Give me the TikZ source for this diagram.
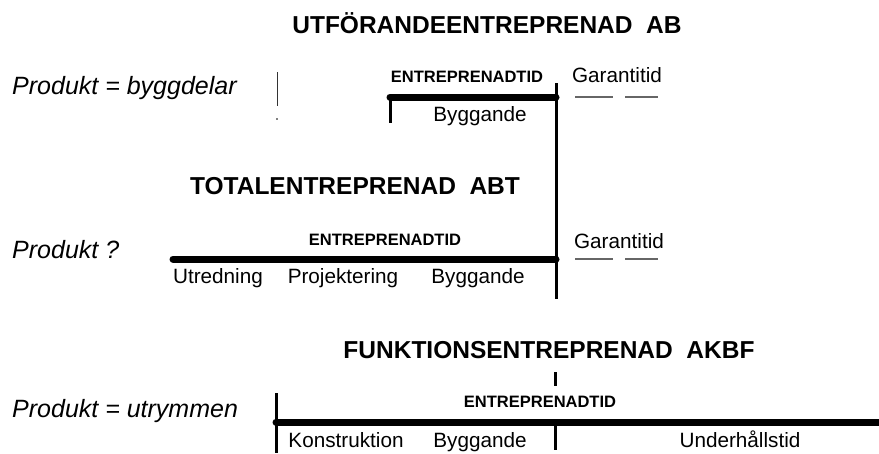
\documentclass[tikz,border=0pt]{standalone}
\usepackage{fontspec}
\setmainfont{Liberation Sans}
\begin{document}
\begin{tikzpicture}[x=1pt,y=-1pt,
  title/.style={font=\fontsize{24.5}{26}\selectfont\bfseries, inner sep=0pt},
  prod/.style={font=\fontsize{25}{27}\selectfont\itshape, inner sep=0pt, anchor=west},
  etid/.style={font=\fontsize{16.5}{18}\selectfont\bfseries, inner sep=0pt},
  lab/.style={font=\fontsize{20.7}{22}\selectfont, inner sep=0pt, anchor=base},
  thick line/.style={line width=7pt, line cap=round},
  vline/.style={line width=3pt},
  thin line/.style={line width=1pt, black!80},
  dashline/.style={line width=1.2pt, black!60}]
\useasboundingbox (0,0) rectangle (879,453);

% ---------- UTFÖRANDEENTREPRENAD AB ----------
\node[title] (t1) at (487,23) {UTFÖRANDEENTREPRENAD\ \ AB};
\node[prod] (p1) at (12,88) {Produkt = byggdelar};
\coordinate (a1) at (277,72); \coordinate (a2) at (277,106);
\draw[thin line] (a1) -- (a2);
\fill (277,119) circle (0.8);
\coordinate (b1s) at (390,97); \coordinate (b1e) at (556,97);
\draw[thick line] (b1s) -- (b1e);
\coordinate (b1d) at (390,123);
\draw[vline] (b1s) -- (b1d);
\node[etid] (e1) at (467,77) {ENTREPRENADTID};
\node[lab] (by1) at (480,121) {Byggande};
\coordinate (v1) at (556,83); \coordinate (v2) at (556,299);
\draw[vline] (v1) -- (v2);
\node[lab] (g1) at (617,82) {Garantitid};
\coordinate (d1a) at (575,97); \coordinate (d1b) at (613,97);
\coordinate (d1c) at (625,97); \coordinate (d1d) at (658,97);
\draw[dashline] (d1a) -- (d1b) (d1c) -- (d1d);

% ---------- TOTALENTREPRENAD ABT ----------
\node[title] (t2) at (355,186) {TOTALENTREPRENAD\ \ ABT};
\node[prod] (p2) at (12,250) {Produkt ?};
\coordinate (b2s) at (173,259); \coordinate (b2e) at (556,259);
\draw[thick line] (b2s) -- (b2e);
\node[etid] (e2) at (385,240) {ENTREPRENADTID};
\node[lab] (u2) at (218,283) {Utredning};
\node[lab] (pr2) at (343,283) {Projektering};
\node[lab] (by2) at (478,283) {Byggande};
\node[lab] (g2) at (619,248) {Garantitid};
\coordinate (d2a) at (575,259); \coordinate (d2b) at (613,259);
\coordinate (d2c) at (625,259); \coordinate (d2d) at (658,259);
\draw[dashline] (d2a) -- (d2b) (d2c) -- (d2d);

% ---------- FUNKTIONSENTREPRENAD AKBF ----------
\node[title] (t3) at (549,350) {FUNKTIONSENTREPRENAD\ \ AKBF};
\coordinate (k1) at (555,372); \coordinate (k2) at (555,386);
\draw[vline] (k1) -- (k2);
\node[prod] (p3) at (12,411) {Produkt = utrymmen};
\coordinate (c1) at (276,393); \coordinate (c2) at (276,453);
\draw[vline] (c1) -- (c2);
\coordinate (b3s) at (276,422); \coordinate (b3e) at (882,422);
\draw[line width=7pt, line cap=round] (b3s) -- (b3e);
\node[etid] (e3) at (540,402) {ENTREPRENADTID};
\coordinate (m1) at (555,422); \coordinate (m2) at (555,450);
\draw[vline] (m1) -- (m2);
\node[lab] (ko3) at (346,447) {Konstruktion};
\node[lab] (by3) at (480,447) {Byggande};
\node[lab] (un3) at (740,447) {Underhållstid};
\end{tikzpicture}
\end{document}
